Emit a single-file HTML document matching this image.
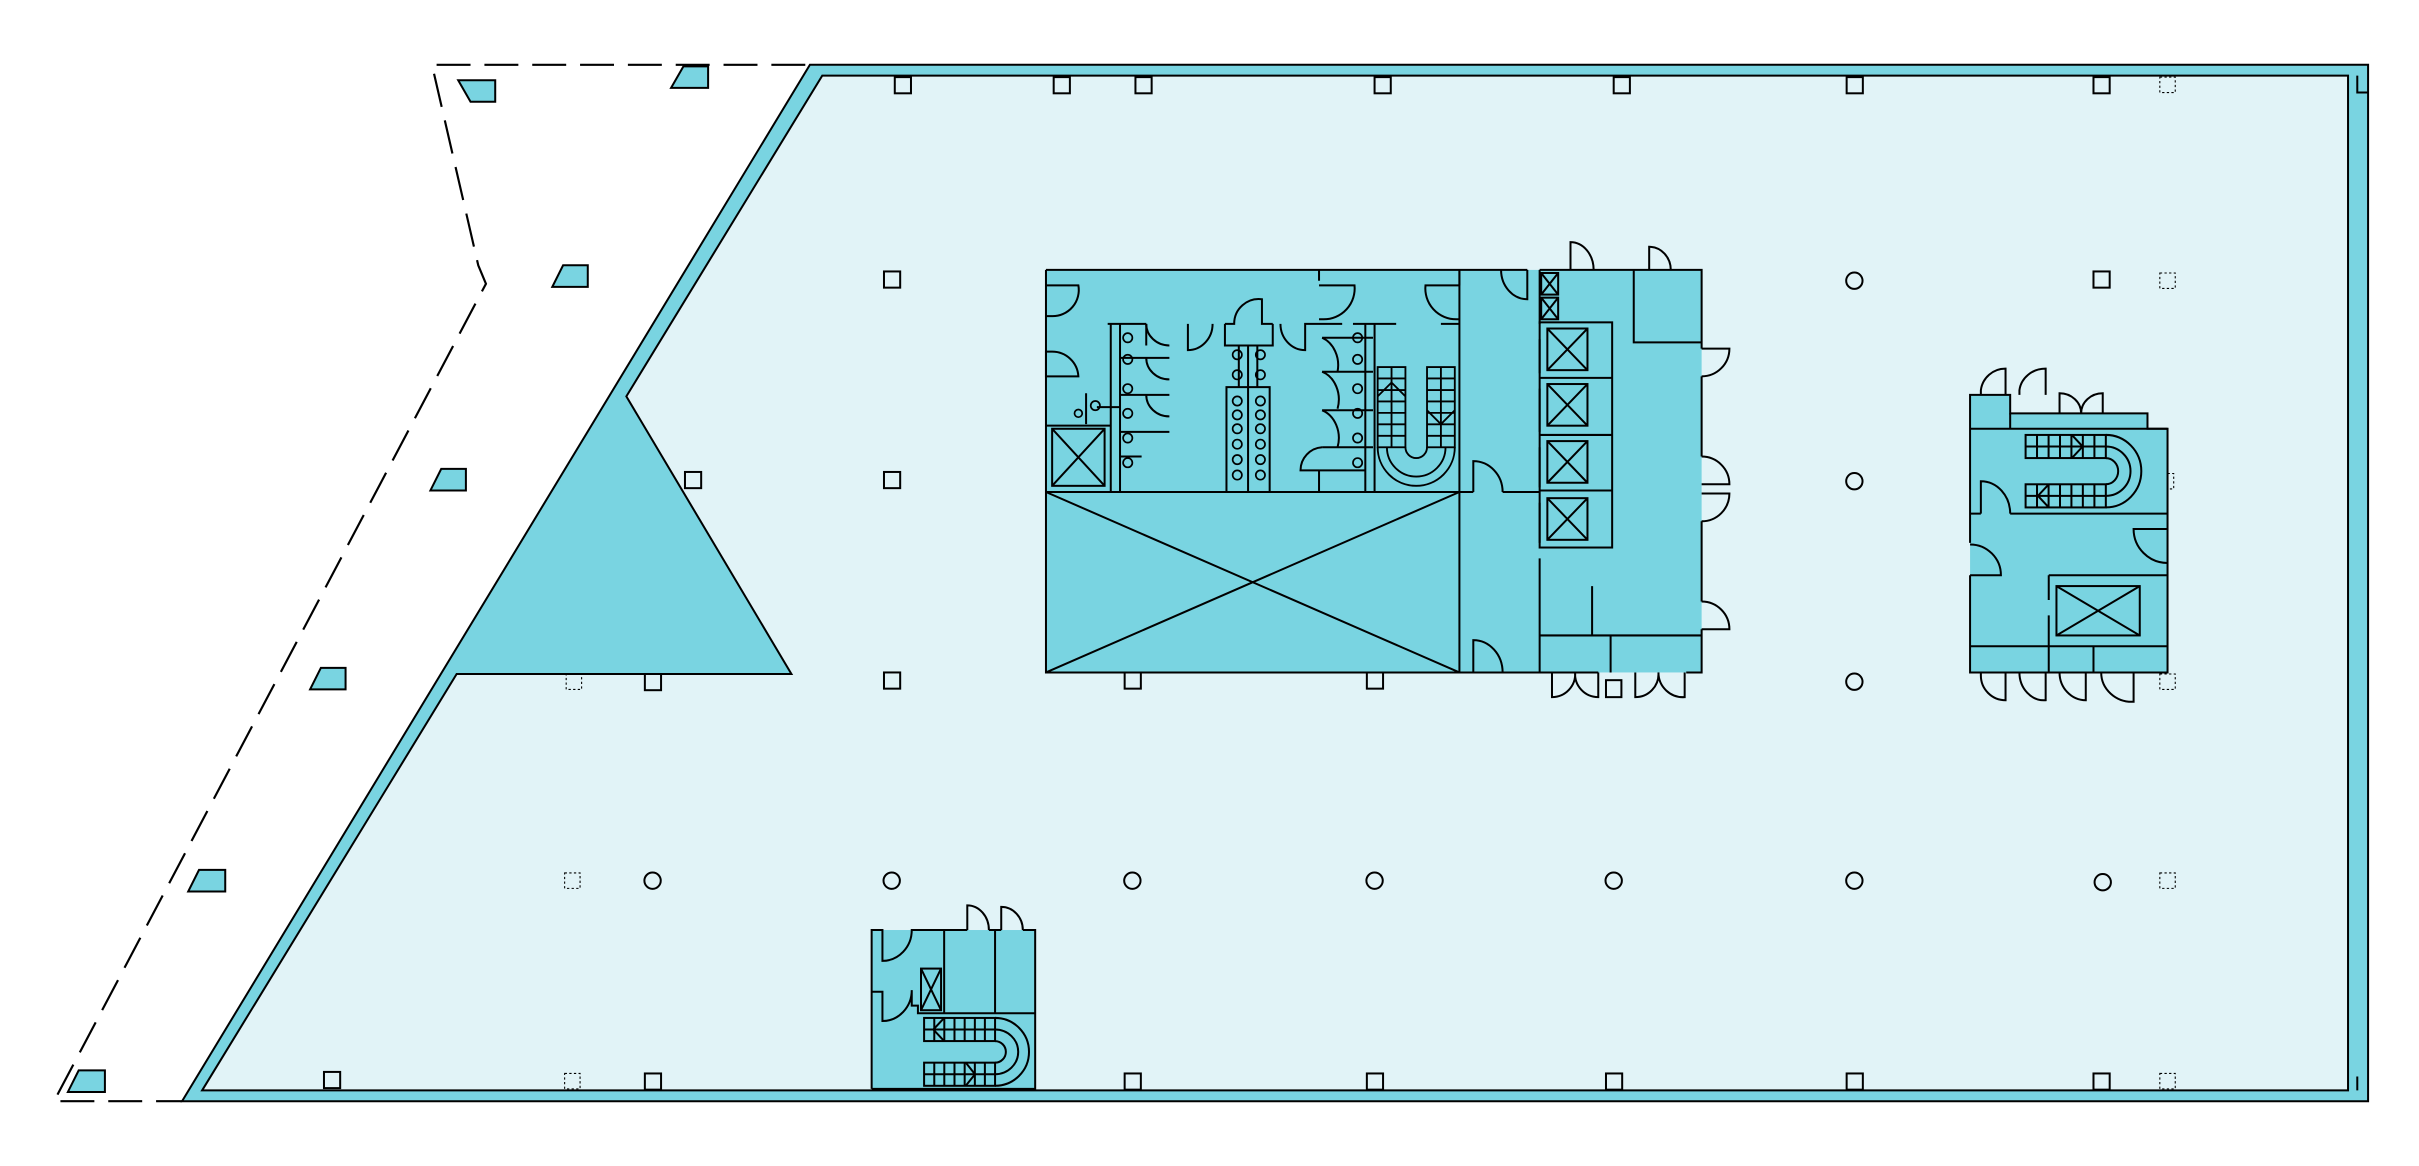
<!DOCTYPE html>
<html><head><meta charset="utf-8"><style>
html,body{margin:0;padding:0;background:#fff;width:2419px;height:1166px;overflow:hidden}
svg{display:block}
</style></head><body>
<svg width="2419" height="1166" viewBox="0 0 1568 756" preserveAspectRatio="none" xmlns="http://www.w3.org/2000/svg">
<g fill="none" stroke="#000" stroke-width="1.3">
<path d="M522,42 L280,42 L310,172 L315,184 L35,714 L118,714" stroke-dasharray="22,9" stroke-width="1.4"/>
<path d="M525,42 L1535,42 L1535,714 L118,714 Z" fill="#79d4e1"/>
<path d="M533,49 L1522,49 L1522,707 L131,707 L296,437 L513,437 L406,257 Z" fill="#e1f3f7"/>
<path d="M1528,49 L1528,60 L1535,60 M1528,698 L1528,707"/>
<path fill="#79d4e1" d="M297,52 L321,52 L321,66 L305,66 Z"/>
<path fill="#79d4e1" d="M443,43 L459,43 L459,57 L435,57 Z"/>
<path fill="#79d4e1" d="M365,172 L381,172 L381,186 L358,186 Z"/>
<path fill="#79d4e1" d="M286,304 L302,304 L302,318 L279,318 Z"/>
<path fill="#79d4e1" d="M208,433 L224,433 L224,447 L201,447 Z"/>
<path fill="#79d4e1" d="M129,564 L146,564 L146,578 L122,578 Z"/>
<path fill="#79d4e1" d="M51,694 L68,694 L68,708 L44,708 Z"/>
</g>
<g fill="#e1f3f7" stroke="#000" stroke-width="1.3">
<rect x="580" y="50" width="10.5" height="10.5"/><rect x="683" y="50" width="10.5" height="10.5"/><rect x="736" y="50" width="10.5" height="10.5"/><rect x="891" y="50" width="10.5" height="10.5"/><rect x="1046" y="50" width="10.5" height="10.5"/><rect x="1197" y="50" width="10.5" height="10.5"/><rect x="1357" y="50" width="10.5" height="10.5"/>
<rect x="573" y="176" width="10.5" height="10.5"/><rect x="1357" y="176" width="10.5" height="10.5"/><circle cx="1202" cy="182" r="5.3"/>
<rect x="444" y="306" width="10.5" height="10.5"/><rect x="573" y="306" width="10.5" height="10.5"/><circle cx="1202" cy="312" r="5.3"/>
<rect x="418" y="437" width="10.5" height="10.5"/><rect x="573" y="436" width="10.5" height="10.5"/><rect x="729" y="436" width="10.5" height="10.5"/><rect x="886" y="436" width="10.5" height="10.5"/><circle cx="1202" cy="442" r="5.3"/>
<circle cx="423" cy="571" r="5.3"/><circle cx="578" cy="571" r="5.3"/><circle cx="734" cy="571" r="5.3"/><circle cx="891" cy="571" r="5.3"/><circle cx="1046" cy="571" r="5.3"/><circle cx="1202" cy="571" r="5.3"/><circle cx="1363" cy="572" r="5.3"/>
<rect x="210" y="695" width="10.5" height="10.5"/><rect x="418" y="696" width="10.5" height="10.5"/><rect x="729" y="696" width="10.5" height="10.5"/><rect x="886" y="696" width="10.5" height="10.5"/><rect x="1041" y="696" width="10.5" height="10.5"/><rect x="1197" y="696" width="10.5" height="10.5"/><rect x="1357" y="696" width="10.5" height="10.5"/>
</g>
<g fill="none" stroke="#000" stroke-width="0.7" stroke-dasharray="1.5,1.5">
<rect x="1400" y="50" width="10" height="10"/><rect x="1400" y="177" width="10" height="10"/><rect x="367" y="437" width="10" height="10"/><rect x="1400" y="437" width="10" height="10"/><rect x="366" y="566" width="10" height="10"/><rect x="1400" y="566" width="10" height="10"/><rect x="366" y="696" width="10" height="10"/><rect x="1400" y="696" width="10" height="10"/>
</g>

<g fill="none" stroke="#000" stroke-width="1.3">
<rect x="678" y="175" width="425" height="261" fill="#79d4e1" stroke="none"/>
<path d="M678,175 H946 V185 M855,175 V182 M933,175 H990 M998,175 H1103 V226 M1103,244 V296 M1103,338 V390 M1103,408 V436 H1093 M1036,436 H678 V175"/>
<path d="M678,185 h21 a17,17 0 0 1 -17,20 h-4"/>
<path d="M678,228 v16 h21 a17,17 0 0 0 -17,-16 z"/>
<path d="M855,185 h23 a20,20 0 0 1 -20,22 h-3"/>
<path d="M946,185 h-22 a20,20 0 0 0 20,22 h2"/>
<path d="M973,175 a17,19 0 0 0 17,19 v-19"/>
<path d="M1018,175 v-18 a15,18 0 0 1 15,18"/>
<path d="M1069,175 v-15 a14,15 0 0 1 14,15"/>
<path d="M1103,226 h18 a18,18 0 0 1 -18,18"/>
<path d="M1103,296 a18,18 0 0 1 18,18 h-18 M1103,320 h18 a18,18 0 0 1 -18,18"/>
<path d="M1103,390 a18,18 0 0 1 18,18 h-18"/>
<path d="M1006,436 v16 a15,15 0 0 0 15,-16 a15,15 0 0 0 15,16 v-16"/>
<path d="M1060,436 v16 a15,15 0 0 0 15,-16 a16,16 0 0 0 17,16 v-16"/>
<rect x="1041" y="441" width="10" height="11" fill="#e1f3f7"/>
<path d="M946,175 V436 M946,319 H955 M974,319 H998 M955,319 v-20 a19,20 0 0 1 19,20 M955,436 v-21 a19,21 0 0 1 19,21 M946,436 H955"/>
<path d="M998,175 V210 M998,220 V242 M998,252 V280 M998,290 V316 M998,326 V352 M998,362 V436"/>
<rect x="998" y="209" width="47" height="146"/>
<path d="M998,245 H1045 M998,282 H1045 M998,318 H1045"/>
<rect x="1003" y="213" width="26" height="27"/><path d="M1003,213 L1029,240 M1029,213 L1003,240"/>
<rect x="1003" y="249" width="26" height="27"/><path d="M1003,249 L1029,276 M1029,249 L1003,276"/>
<rect x="1003" y="286" width="26" height="27"/><path d="M1003,286 L1029,313 M1029,286 L1003,313"/>
<rect x="1003" y="323" width="26" height="27"/><path d="M1003,323 L1029,350 M1029,323 L1003,350"/>
<rect x="999" y="177" width="11" height="14"/><rect x="999" y="193" width="11" height="14"/>
<path d="M999,177 L1010,191 M1010,177 L999,191 M999,193 L1010,207 M1010,193 L999,207"/>
<path d="M1059,175 V222 H1103"/>
<path d="M998,412 H1103 M1044,412 V436 M1032,380 V412"/>
<path d="M678,319 H946 M678,319 L946,436 M946,319 L678,436"/>
<path d="M678,276 H720 M720,210 V319 M726,210 V319 M718,210 H743 M743,210 v14 M726,232 H758 M726,256 H758 M726,280 H758"/>
<path d="M743,210 a15,14 0 0 0 15,14 M743,232 a15,14 0 0 0 15,14 M743,256 a15,14 0 0 0 15,14"/>
<rect x="682" y="278" width="34" height="37"/><path d="M682,278 L716,315 M716,278 L682,315"/>
<path d="M711,264 H726 M726,296 H740 M704,255 V275"/>
<path d="M770,210 V227 a16,17 0 0 0 16,-17 M794,210 V224 H825 V210 M794,210 h6 a16,16 0 0 1 18,-16 V210 h7 M830,210 a16,17 0 0 0 16,17 V210 H870 M877,210 H905"/>
<rect x="795" y="251" width="28" height="68"/><path d="M809,224 V319 M803,224 V251 M815,224 V251"/>
<path d="M885,210 V319 M891,210 V319 M857,219 H890 M857,241 H890 M857,266 H890 M857,290 H890 M855,305 H885 M855,305 v14"/>
<path d="M857,219 a16,19 0 0 1 10,22 M857,241 a16,19 0 0 1 10,24 M857,266 a16,19 0 0 1 10,24 M857,290 a15,15 0 0 0 -14,15 h12"/>
<path d="M934,210 H946"/>
</g>
<g fill="none" stroke="#000" stroke-width="1.1">
<circle cx="731" cy="219" r="3"/><circle cx="731" cy="233" r="3"/><circle cx="731" cy="252" r="3"/><circle cx="731" cy="268" r="3"/><circle cx="731" cy="284" r="3"/><circle cx="731" cy="300" r="3"/>
<circle cx="880" cy="219" r="3"/><circle cx="880" cy="233" r="3"/><circle cx="880" cy="252" r="3"/><circle cx="880" cy="268" r="3"/><circle cx="880" cy="284" r="3"/><circle cx="880" cy="300" r="3"/>
<circle cx="802" cy="230" r="3"/><circle cx="817" cy="230" r="3"/><circle cx="802" cy="243" r="3"/><circle cx="817" cy="243" r="3"/>
<circle cx="802" cy="260" r="3"/><circle cx="817" cy="260" r="3"/><circle cx="802" cy="269" r="3"/><circle cx="817" cy="269" r="3"/><circle cx="802" cy="278" r="3"/><circle cx="817" cy="278" r="3"/><circle cx="802" cy="288" r="3"/><circle cx="817" cy="288" r="3"/><circle cx="802" cy="298" r="3"/><circle cx="817" cy="298" r="3"/><circle cx="802" cy="308" r="3"/><circle cx="817" cy="308" r="3"/>
<circle cx="710" cy="263" r="3"/><circle cx="699" cy="268" r="2.5"/>
</g>
<g fill="none" stroke="#000" stroke-width="1.2">
<rect x="893" y="238" width="18" height="52"/><rect x="925" y="238" width="18" height="52"/>
<path d="M902,238 V290 M934,238 V290 M893,245.4 H911 M893,252.9 H911 M893,260.3 H911 M893,267.7 H911 M893,275.1 H911 M893,282.6 H911 M925,245.4 H943 M925,252.9 H943 M925,260.3 H943 M925,267.7 H943 M925,275.1 H943 M925,282.6 H943"/>
<path d="M893,290 a25,25 0 0 0 50,0 M899,290 a19,19 0 0 0 38,0 M911,290 a7,7 0 0 0 14,0"/>
<path d="M893,257 L902,248 L911,257 M925,266 L934,275 L943,266"/>
</g>

<g fill="none" stroke="#000" stroke-width="1.3">
<path d="M1277,256 H1303 V268 H1392 V278 H1405 V436 H1277 Z" fill="#79d4e1" stroke="none"/>
<path d="M1277,352 V256 H1303 V268 H1392 V278 H1405 V436 H1277 V373"/>
<path d="M1284,256 v-3 a16,16 0 0 1 16,-14 v17 M1309,256 v-3 a17,16 0 0 1 17,-14 v17"/>
<path d="M1335,268 v-13 a14,13 0 0 1 14,13 a14,13 0 0 1 14,-13 v13"/>
<path d="M1277,278 H1303 V268 M1303,278 H1405 M1277,333 H1284 M1303,333 H1405 M1284,333 v-21 a19,21 0 0 1 19,21"/>
<path d="M1405,343 h-22 a22,22 0 0 0 22,22"/>
<path d="M1277,373 h20 a20,20 0 0 0 -20,-20"/>
<path d="M1328,373 H1405 M1328,373 V389 M1328,399 V419 M1277,419 H1405 M1328,419 V436 M1357,419 V436"/>
<rect x="1333" y="380" width="54" height="32"/><path d="M1333,380 L1387,412 M1387,380 L1333,412"/>
<path d="M1284,436 v2 a16,16 0 0 0 16,16 v-18 M1309,436 a16,18 0 0 0 17,18 v-18 M1335,436 a17,18 0 0 0 17,18 v-18 M1362,436 a20,19 0 0 0 21,19 v-19"/>
<rect x="1313" y="282" width="52" height="15"/><rect x="1313" y="314" width="52" height="15"/>
<path d="M1313,289.5 H1365 M1313,321.5 H1365 M1320.4,282 V297 M1327.9,282 V297 M1335.3,282 V297 M1342.7,282 V297 M1350.1,282 V297 M1357.6,282 V297 M1320.4,314 V329 M1327.9,314 V329 M1335.3,314 V329 M1342.7,314 V329 M1350.1,314 V329 M1357.6,314 V329"/>
<path d="M1365,282 a23,23.5 0 0 1 0,47 M1365,289.5 a16,16 0 0 1 0,32 M1365,297 a8,8.5 0 0 1 0,17 M1343,282 L1350,289.5 L1343,297 M1328,314 L1321,321.5 L1328,329"/>
</g>
<rect x="1405" y="307" width="4" height="10" fill="none" stroke="#000" stroke-dasharray="1.5,1.5" stroke-width="0.7"/>

<g fill="none" stroke="#000" stroke-width="1.3">
<rect x="565" y="603" width="106" height="103" fill="#79d4e1" stroke="none"/>
<path d="M565,706 V603 H572 V623 a19,20 0 0 0 19,-20 H627 M641,603 H649 M663,603 H671 V706 H565"/>
<path d="M627,603 v-16 a14,16 0 0 1 14,16 M649,603 v-15 a14,15 0 0 1 14,15"/>
<path d="M565,643 H572 V662 a19,20 0 0 0 19,-20 V652 H595 V657 H671 M612,603 V657 M645,603 V657"/>
<rect x="597" y="628" width="13" height="27"/><path d="M597,628 L610,655 M610,628 L597,655"/>
<rect x="599" y="660" width="46" height="15"/><rect x="599" y="689" width="46" height="15"/>
<path d="M599,667.5 H645 M599,696.5 H645 M605.6,660 V675 M612.1,660 V675 M618.7,660 V675 M625.3,660 V675 M631.9,660 V675 M638.4,660 V675 M605.6,689 V704 M612.1,689 V704 M618.7,689 V704 M625.3,689 V704 M631.9,689 V704 M638.4,689 V704"/>
<path d="M645,660 a22,22 0 0 1 0,44 M645,667.5 a15,14.5 0 0 1 0,29 M645,675 a7,7 0 0 1 0,14 M612,660 L605,667.5 L612,675 M626,689 L632,696.5 L626,704"/>
</g>
</svg>
</body></html>
